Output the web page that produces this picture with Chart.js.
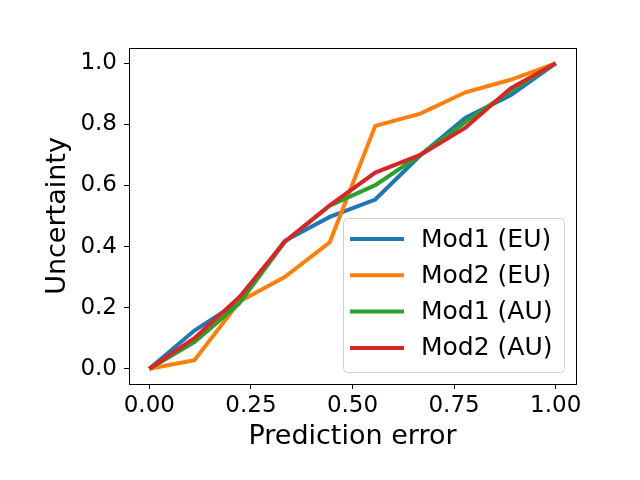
<!DOCTYPE html>
<html>
<head>
<meta charset="utf-8">
<script src="https://cdn.jsdelivr.net/npm/chart.js@4/dist/chart.umd.min.js"></script>
<style>
  html, body { margin: 0; padding: 0; background: #fff; }
  #wrap { width: 640px; height: 480px; }
</style>
</head>
<body>
<div id="wrap"><canvas id="chart" width="640" height="480"></canvas></div>
<script>
// values
const errors = [0, 0.111, 0.222, 0.333, 0.444, 0.556, 0.667, 0.778, 0.889, 1.0];
const mod1EU = [0, 0.125, 0.22, 0.418, 0.497, 0.554, 0.699, 0.822, 0.895, 1.0];
const mod2EU = [0, 0.028, 0.22, 0.30, 0.414, 0.795, 0.835, 0.905, 0.946, 1.0];
const mod1AU = [0, 0.087, 0.215, 0.415, 0.534, 0.601, 0.700, 0.807, 0.910, 1.0];
const mod2AU = [0, 0.100, 0.235, 0.415, 0.535, 0.642, 0.700, 0.789, 0.918, 1.0];
const seriesNames = ['Mod1 (EU)', 'Mod2 (EU)', 'Mod1 (AU)', 'Mod2 (AU)'];
const seriesColors = ['#1f77b4', '#ff7f0e', '#2ca02c', '#d62728'];
const xTicks = [0, 0.25, 0.5, 0.75, 1.0];
const yTicks = [0, 0.2, 0.4, 0.6, 0.8, 1.0];

const FONT = 'DejaVu Sans';

function points(ys) {
    return ys.map((y, i) => ({ x: errors[i], y: y }));
}

// box around the plot + legend in the lower right corner
const framePlugin = {
    id: 'frame',
    afterDatasetsDraw(chart) {
        const ctx = chart.ctx;
        const a = chart.chartArea;
        ctx.save();
        ctx.strokeStyle = '#000';
        ctx.lineWidth = 1;
        ctx.strokeRect(Math.round(a.left) + 0.5, Math.round(a.top) + 0.5,
            Math.round(a.right - a.left), Math.round(a.bottom - a.top));

        // legend
        const w = 221, h = 154;
        const x = a.right - 12 - w, y = a.bottom - 12 - h;
        ctx.beginPath();
        ctx.roundRect(x + 0.5, y + 0.5, w, h, 4);
        ctx.fillStyle = 'rgba(255,255,255,0.8)';
        ctx.fill();
        ctx.strokeStyle = '#d0d0d0';
        ctx.stroke();
        ctx.font = '25px ' + FONT;
        ctx.textBaseline = 'middle';
        seriesNames.forEach((name, i) => {
            const ly = y + 21 + i * 36.3;
            ctx.strokeStyle = seriesColors[i];
            ctx.lineWidth = 4;
            ctx.beginPath();
            ctx.moveTo(x + 7, ly);
            ctx.lineTo(x + 61, ly);
            ctx.stroke();
            ctx.fillStyle = '#000';
            ctx.fillText(name, x + 78, ly + 1);
        });
        ctx.restore();
    }
};

const allSeries = [mod1EU, mod2EU, mod1AU, mod2AU];

new Chart(document.getElementById('chart'), {
    type: 'line',
    data: {
        datasets: allSeries.map((ys, i) => ({
            label: seriesNames[i],
            data: points(ys),
            borderColor: seriesColors[i],
            backgroundColor: seriesColors[i],
            borderWidth: 4,
            pointRadius: 0,
            tension: 0,
            order: 3 - i
        }))
    },
    options: {
        responsive: false,
        animation: false,
        layout: { padding: { left: 38, right: 64, top: 48, bottom: 0 } },
        plugins: {
            legend: { display: false },
            tooltip: { enabled: false }
        },
        scales: {
            x: {
                type: 'linear',
                min: -0.05,
                max: 1.05,
                afterBuildTicks: axis => { axis.ticks = xTicks.map(v => ({ value: v })); },
                afterFit: axis => { axis.height = 96; },
                grid: { display: true, drawOnChartArea: false, drawTicks: true, tickLength: 5, color: '#000' },
                border: { display: false },
                ticks: {
                    color: '#000',
                    font: { family: FONT, size: 23 },
                    padding: 3,
                    maxRotation: 0,
                    callback: v => v.toFixed(2)
                },
                title: {
                    display: true,
                    text: 'Prediction error',
                    color: '#000',
                    font: { family: FONT, size: 27 },
                    padding: { top: 2, bottom: 27 }
                }
            },
            y: {
                type: 'linear',
                min: -0.05,
                max: 1.05,
                afterBuildTicks: axis => { axis.ticks = yTicks.map(v => ({ value: v })); },
                afterFit: axis => { axis.width = 91; },
                grid: { display: true, drawOnChartArea: false, drawTicks: true, tickLength: 5, color: '#000' },
                border: { display: false },
                ticks: {
                    color: '#000',
                    font: { family: FONT, size: 23 },
                    padding: 7,
                    callback: v => v.toFixed(1)
                },
                title: {
                    display: true,
                    text: 'Uncertainty',
                    color: '#000',
                    font: { family: FONT, size: 27 },
                    padding: { top: 4, bottom: 4 }
                }
            }
        }
    },
    plugins: [framePlugin]
});
</script>
</body>
</html>
